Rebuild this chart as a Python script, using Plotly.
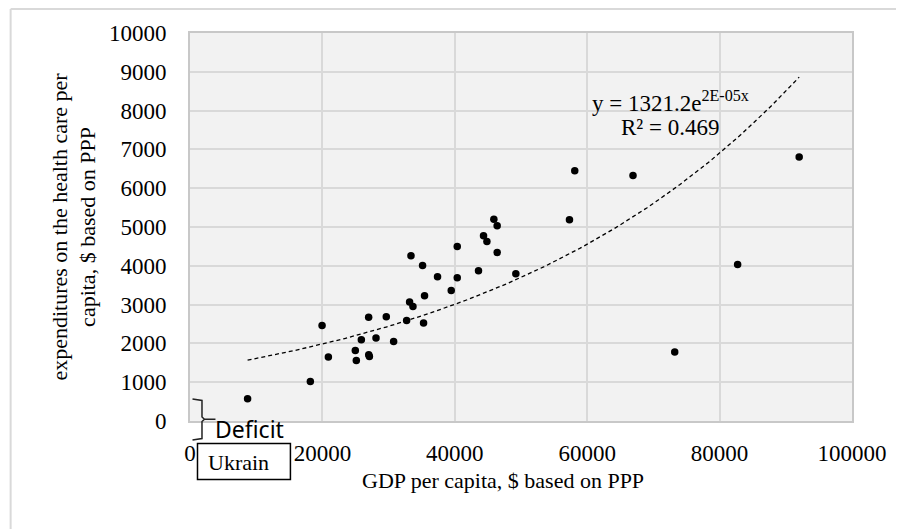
import numpy as np
import plotly.graph_objects as go

# ---- data ----
gdp_per_capita = [8700, 18180, 19950, 20900, 24975, 25125, 25880, 26985, 27000, 27100,
                  28100, 29650, 30760, 32720, 33380, 33170, 33680, 35130, 35430, 35280,
                  37390, 39460, 40370, 40370, 43580, 44340, 44850, 46400, 45900, 46400,
                  49220, 57320, 58120, 66920, 73220, 82720, 92020]
health_exp = [572, 1018, 2461, 1647, 1817, 1559, 2093, 2677, 1710, 1665,
              2136, 2685, 2049, 2590, 4257, 3064, 2951, 4008, 3227, 2523,
              3716, 3363, 4497, 3690, 3871, 4773, 4626, 4343, 5200, 5030,
              3793, 5185, 6448, 6327, 1776, 4033, 6801]
x_ticks = [0, 20000, 40000, 60000, 80000, 100000]
y_ticks = [0, 1000, 2000, 3000, 4000, 5000, 6000, 7000, 8000, 9000, 10000]
eq_label = "y = 1321.2e<sup>2E-05x</sup>"
r2_label = "R² = 0.469"
x_title = "GDP per capita, $ based on PPP"
y_title = "expenditures on the health care per<br>capita, $ based on PPP"
deficit_label = "Deficit"
country_label = "Ukrain"

# exponential trendline (least squares on ln y, like a spreadsheet trendline)
xa = np.array(gdp_per_capita, dtype=float)
ya = np.array(health_exp, dtype=float)
b, ln_a = np.polyfit(xa, np.log(ya), 1)
xt = np.linspace(xa.min(), xa.max(), 200)
yt = np.exp(ln_a) * np.exp(b * xt)

W, H = 904, 529
OFF = 8  # page body margin in the browser
L, R, T, B = 181.5, 60, 25, 116
PW, PH = W - L - R, H - T - B


def px(xs):
    """screen x pixel -> paper x"""
    return (xs - OFF - L) / PW


def py(ys):
    """screen y pixel -> paper y"""
    return (H - B - (ys - OFF)) / PH


SERIF = "Liberation Serif"

fig = go.Figure()
fig.add_trace(go.Scatter(x=xt, y=yt, mode="lines",
                         line=dict(color="black", width=1.3, dash="4px,3px"),
                         hoverinfo="skip", showlegend=False))
fig.add_trace(go.Scatter(x=gdp_per_capita, y=health_exp, mode="markers",
                         marker=dict(color="black", size=7.5),
                         showlegend=False))

fig.update_layout(
    width=W, height=H,
    margin=dict(l=L, r=R, t=T, b=B),
    paper_bgcolor="white",
    plot_bgcolor="#f2f2f2",
    font=dict(family=SERIF, size=23, color="black"),
    showlegend=False,
)
fig.update_xaxes(range=[0, 100000], tickvals=x_ticks, ticktext=[str(v) for v in x_ticks],
                 showgrid=True, gridcolor="#d9d9d9", gridwidth=2,
                 showline=True, linecolor="#c8c8c8", linewidth=2, mirror=True,
                 zeroline=False, ticks="", ticklabelstandoff=10,
                 tickfont=dict(family=SERIF, size=23))
fig.update_yaxes(range=[0, 10000], tickvals=y_ticks, ticktext=[str(v) for v in y_ticks],
                 showgrid=True, gridcolor="#d9d9d9", gridwidth=2,
                 showline=True, linecolor="#c8c8c8", linewidth=2, mirror=True,
                 zeroline=False, ticks="", ticklabelstandoff=17,
                 tickfont=dict(family=SERIF, size=23))

shapes = []
# outer chart-area border (top and left edges visible)
shapes.append(dict(type="line", xref="paper", yref="paper",
                   x0=px(10), x1=px(W + 20), y0=py(9), y1=py(9),
                   line=dict(color="#d9d9d9", width=2)))
shapes.append(dict(type="line", xref="paper", yref="paper",
                   x0=px(10), x1=px(10), y0=py(9), y1=py(H + 20),
                   line=dict(color="#d9d9d9", width=2)))
# curly bracket for "Deficit"
path = (f"M {px(192)},{py(399)} L {px(201.5)},{py(400.5)} L {px(201.5)},{py(417)} "
        f"L {px(204)},{py(419.3)} L {px(215)},{py(419.3)} "
        f"M {px(204)},{py(419.3)} L {px(201.5)},{py(421.5)} L {px(201.5)},{py(438.5)} "
        f"L {px(192)},{py(440)}")
shapes.append(dict(type="path", xref="paper", yref="paper", path=path,
                   line=dict(color="#222222", width=1.5), layer="above"))
# box around "Ukrain"
shapes.append(dict(type="rect", xref="paper", yref="paper",
                   x0=px(197), x1=px(290), y0=py(443.5), y1=py(479.5),
                   fillcolor="white", line=dict(color="black", width=1.5), layer="above"))
fig.update_layout(shapes=shapes)

ann = []
ann.append(dict(xref="paper", yref="paper", x=px(670), y=py(101), text=eq_label,
                showarrow=False, xanchor="center", yanchor="middle",
                font=dict(family=SERIF, size=23)))
ann.append(dict(xref="paper", yref="paper", x=px(670), y=py(127), text=r2_label,
                showarrow=False, xanchor="center", yanchor="middle",
                font=dict(family=SERIF, size=23)))
ann.append(dict(xref="paper", yref="paper", x=px(213), y=py(429), text=deficit_label,
                showarrow=False, xanchor="left", yanchor="middle",
                font=dict(family="Noto Sans", size=23)))
ann.append(dict(xref="paper", yref="paper", x=px(238), y=py(462), text=country_label,
                showarrow=False, xanchor="center", yanchor="middle",
                font=dict(family=SERIF, size=22)))
ann.append(dict(xref="paper", yref="paper", x=px(503), y=py(481), text=x_title,
                showarrow=False, xanchor="center", yanchor="middle",
                font=dict(family=SERIF, size=22)))
ann.append(dict(xref="paper", yref="paper", x=px(73), y=py(227), text=y_title,
                showarrow=False, xanchor="center", yanchor="middle", textangle=-90,
                font=dict(family=SERIF, size=22)))
fig.update_layout(annotations=ann)

fig.write_html("out.html")
